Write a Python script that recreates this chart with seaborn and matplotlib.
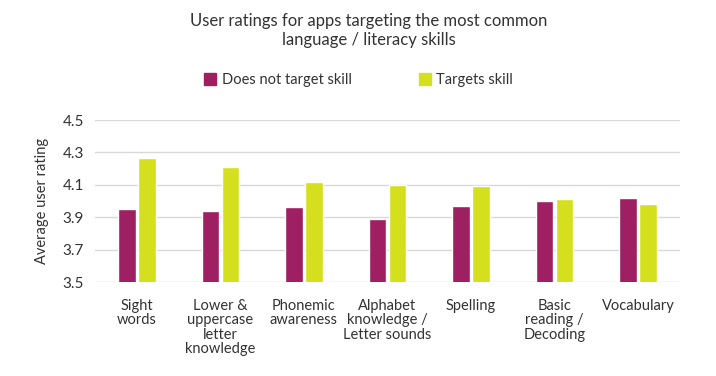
import matplotlib
matplotlib.use("Agg")
import matplotlib.pyplot as plt
import seaborn as sns
import pandas as pd
from matplotlib.lines import Line2D

categories = ["Sight\nwords", "Lower &\nuppercase\nletter\nknowledge", "Phonemic\nawareness",
              "Alphabet\nknowledge /\nLetter sounds", "Spelling", "Basic\nreading /\nDecoding", "Vocabulary"]
does_not_target = [3.95, 3.94, 3.96, 3.89, 3.97, 4.00, 4.02]
targets = [4.265, 4.21, 4.12, 4.10, 4.09, 4.01, 3.98]
series_names = ["Does not target skill", "Targets skill"]
yticks = [3.5, 3.7, 3.9, 4.1, 4.3, 4.5]

colors = ["#9E1F62", "#D4DF1E"]
text_color = "#333333"

df = pd.DataFrame({
    "skill": categories * 2,
    "rating": does_not_target + targets,
    "group": [series_names[0]] * len(categories) + [series_names[1]] * len(categories),
})

sns.set_theme(style="white")
plt.rcParams["font.family"] = ["Lato", "DejaVu Sans"]

fig = plt.figure(figsize=(7.16, 3.76), dpi=100)
ax = fig.add_axes([95 / 716, 1 - 282 / 376, (680 - 95) / 716, (282 - 120) / 376])

sns.barplot(data=df, x="skill", y="rating", hue="group", palette=colors,
            width=0.48, gap=0.12, ax=ax, legend=False, saturation=1)

ax.set_ylim(3.5, 4.5)
ax.set_yticks(yticks)
ax.set_yticklabels([f"{v:.1f}" for v in yticks], fontsize=11, color=text_color)
ax.yaxis.grid(True, color="#d9d9d9", linewidth=1)
ax.set_axisbelow(True)
for s in ax.spines.values():
    s.set_visible(False)
ax.tick_params(axis="x", length=0, pad=12)
ax.tick_params(axis="y", length=0, pad=8)
ax.set_xlabel("")
ax.set_ylabel("Average user rating", fontsize=10.5, color=text_color, labelpad=10)
for lbl in ax.get_xticklabels():
    lbl.set_fontsize(10.5)
    lbl.set_color(text_color)
    lbl.set_linespacing(1.05)
    lbl.set_verticalalignment("top")

fig.text(0.515, 0.965, "User ratings for apps targeting the most common\nlanguage / literacy skills",
         ha="center", va="top", fontsize=12, color=text_color, linespacing=1.25)

handles = [Line2D([0], [0], marker="s", linestyle="", markersize=8, color=c) for c in colors]
fig.legend(handles, series_names, loc="center", bbox_to_anchor=(0.5, 1 - 80 / 376), ncol=2,
           frameon=False, fontsize=10.5, handletextpad=0.3, columnspacing=4.5,
           labelcolor=text_color, handlelength=1.0)

fig.savefig("out.png", dpi=100)
